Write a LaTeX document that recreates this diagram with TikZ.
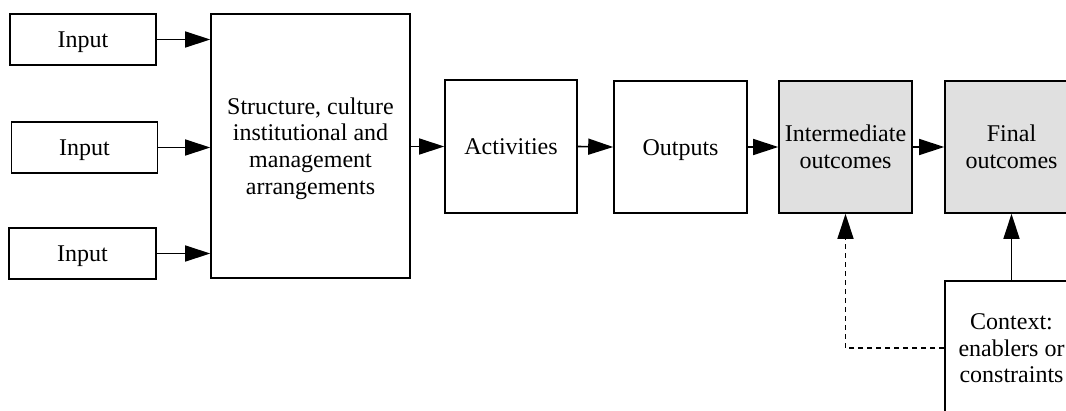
\documentclass[tikz,border=0pt]{standalone}
\usepackage{fontspec}
\setmainfont{Liberation Serif}
\usetikzlibrary{arrows.meta}
% fixed line box so every line sits on the same ascent/descent
\newcommand\lnbox{\rule[-5.2pt]{0pt}{26.6pt}}
\begin{document}
\begin{tikzpicture}[x=1pt,y=-1pt,
  box/.style={draw,line width=1.6pt,fill=white,inner sep=0pt,align=center,
    font=\fontsize{24}{26.6}\selectfont},
  shaded/.style={box,fill=black!12},
  flow/.style={line width=1.6pt,-{Triangle[length=25pt,width=16pt]}},
  influence/.style={flow,dash pattern=on 5pt off 4pt}]
\useasboundingbox (0,0) rectangle (1066,410);
\clip (0,0) rectangle (1066,410);
% inputs
\node[box,minimum width=146pt,minimum height=51pt] (in1) at (83,39.5) {\lnbox Input};
\node[box,minimum width=146pt,minimum height=51pt] (in2) at (84.5,147.5) {\lnbox Input};
\node[box,minimum width=147pt,minimum height=51pt] (in3) at (82.5,253.5) {\lnbox Input};
% main chain
\node[box,minimum width=199pt,minimum height=264pt] (struct) at (310.5,146)
  {\lnbox Structure, culture\\\lnbox institutional and\\\lnbox management\\\lnbox arrangements};
\node[box,minimum width=132pt,minimum height=133pt] (act) at (511,146.5) {\lnbox Activities};
\node[box,minimum width=133pt,minimum height=132pt] (out) at (680.5,147) {\lnbox Outputs};
\node[shaded,minimum width=133pt,minimum height=132pt] (inter) at (845.5,147)
  {\lnbox Intermediate\\\lnbox outcomes};
\node[shaded,minimum width=133pt,minimum height=132pt] (final) at (1011.5,147)
  {\lnbox Final\\\lnbox outcomes};
% context
\node[box,minimum width=133pt,minimum height=134pt] (ctx) at (1011.5,348)
  {\lnbox Context:\\\lnbox enablers or\\\lnbox constraints};
% connectors
\draw[flow] (in1.east) -- (in1.east -| struct.west);
\draw[flow] (in2.east) -- (in2.east -| struct.west);
\draw[flow] (in3.east) -- (in3.east -| struct.west);
\draw[flow] (struct.east |- act.west) -- (act.west);
\draw[flow] (act.east) -- (out.west);
\draw[flow] (out.east) -- (inter.west);
\draw[flow] (inter.east) -- (final.west);
\draw[flow] (ctx.north) -- (final.south);
\draw[influence] (ctx.west) -| (inter.south);
\end{tikzpicture}
\end{document}
